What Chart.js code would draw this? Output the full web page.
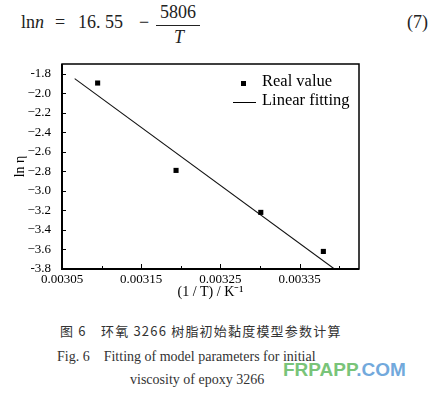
<!DOCTYPE html>
<html>
<head>
<meta charset="utf-8">
<script src="https://cdn.jsdelivr.net/npm/chart.js@4"></script>
<style>
  body { margin: 0; background: #fff; width: 439px; height: 395px; position: relative; overflow: hidden; }
  #chart { position: absolute; left: 0; top: 0; }
  .t { position: absolute; white-space: nowrap; font-family: "Liberation Serif", serif; color: #222; line-height: 1; }
  .eq { font-size: 18px; }
  .cap { font-size: 14px; color: #333; }
  .cn { font-family: "Noto Sans CJK SC", sans-serif; font-size: 13px; color: #333; }
  .wm { font-family: "Liberation Sans", sans-serif; font-weight: bold; font-size: 19px; }
</style>
</head>
<body>
<span class="t eq" style="left:21px; top:13px;">ln<i>n</i></span>
<span class="t eq" style="left:55px; top:13px;">=</span>
<span class="t eq" style="left:78px; top:13px;">16. 55</span>
<span class="t eq" style="left:139px; top:13px;">−</span>
<span class="t eq" style="left:160px; top:3px;">5806</span>
<div style="position:absolute; left:156px; top:25px; width:44px; height:1px; background:#222;"></div>
<span class="t eq" style="left:174px; top:28px;"><i>T</i></span>
<span class="t eq" style="left:407px; top:13px;">(7)</span>

<canvas id="chart" width="439" height="310"></canvas>

<span class="t cn" style="left:60px; top:324px; letter-spacing:1.2px;">图 6　环氧 3266 树脂初始黏度模型参数计算</span>
<span class="t cap" style="left:57px; top:350px;">Fig. 6　Fitting of model parameters for initial</span>
<span class="t cap" style="left:130px; top:373px;">viscosity of epoxy 3266</span>
<span class="t wm" style="left:283px; top:360px;"><span style="color:#79c479;">FRPAPP</span><span style="color:#72a9dc;">.COM</span></span>

<script>
const realX = [0.003095, 0.003194, 0.003301, 0.003380];
const realY = [-1.895, -2.79, -3.22, -3.62];
const fitX = [0.003066, 0.003394];
const fitY = [-1.85, -3.80];
const xTicks = [0.00305, 0.00315, 0.00325, 0.00335];
const xMinorTicks = [0.00310, 0.00320, 0.00330, 0.00340];
const yTicks = [-1.8, -2.0, -2.2, -2.4, -2.6, -2.8, -3.0, -3.2, -3.4, -3.6, -3.8];
const seriesLabels = ['Real value', 'Linear fitting'];

const serif = 'Liberation Serif, serif';

// frame, inward ticks and the legend inside the plot
const framePlugin = {
    id: 'frame',
    afterDraw(chart) {
        const { ctx, chartArea: a, scales } = chart;
        ctx.save();
        ctx.strokeStyle = '#000';
        ctx.lineWidth = 1.5;
        ctx.strokeRect(a.left, a.top, a.right - a.left, a.bottom - a.top);
        ctx.lineWidth = 2;
        ctx.beginPath();
        ctx.moveTo(a.left, a.top);
        ctx.lineTo(a.left, a.bottom);
        ctx.lineTo(a.right, a.bottom);
        ctx.stroke();

        ctx.lineWidth = 1;
        ctx.beginPath();
        yTicks.forEach(v => {
            const y = Math.round(scales.y.getPixelForValue(v)) + 0.5;
            ctx.moveTo(a.left, y);
            ctx.lineTo(a.left + 4, y);
        });
        xTicks.forEach(v => {
            const x = Math.round(scales.x.getPixelForValue(v)) + 0.5;
            ctx.moveTo(x, a.bottom);
            ctx.lineTo(x, a.bottom - 5);
        });
        xMinorTicks.forEach(v => {
            const x = Math.round(scales.x.getPixelForValue(v)) + 0.5;
            ctx.moveTo(x, a.bottom);
            ctx.lineTo(x, a.bottom - 3);
        });
        ctx.stroke();

        // legend
        ctx.fillStyle = '#000';
        ctx.fillRect(241, 81, 5, 5);
        ctx.beginPath();
        ctx.moveTo(233, 102.5);
        ctx.lineTo(256, 102.5);
        ctx.stroke();
        ctx.font = '16.5px ' + serif;
        ctx.textBaseline = 'middle';
        ctx.fillText(seriesLabels[0], 262, 82);
        ctx.fillText(seriesLabels[1], 262, 101);
        ctx.restore();
    }
};

new Chart(document.getElementById('chart').getContext('2d'), {
    type: 'scatter',
    data: {
        datasets: [{
            label: seriesLabels[0],
            data: realX.map((x, i) => ({ x, y: realY[i] })),
            pointStyle: 'rect',
            pointRadius: 3.6,
            backgroundColor: '#000',
            borderColor: '#000',
            borderWidth: 0
        }, {
            label: seriesLabels[1],
            data: fitX.map((x, i) => ({ x, y: fitY[i] })),
            showLine: true,
            pointRadius: 0,
            borderColor: '#111',
            borderWidth: 1.1
        }]
    },
    options: {
        responsive: false,
        animation: false,
        devicePixelRatio: 1,
        layout: { padding: { top: 64, right: 80, left: 0, bottom: 0 } },
        plugins: { legend: { display: false }, tooltip: { enabled: false } },
        scales: {
            x: {
                type: 'linear',
                min: 0.00305,
                max: 0.003425,
                afterFit: s => { s.height = 41; },
                afterBuildTicks: s => { s.ticks = xTicks.map(value => ({ value })); },
                grid: { display: false, drawTicks: false },
                border: { display: false },
                ticks: {
                    padding: 3,
                    color: '#000',
                    font: { family: serif, size: 13 },
                    callback: v => v.toFixed(5)
                },
                title: {
                    display: true,
                    text: '(1 / T) / K⁻¹',
                    color: '#000',
                    font: { family: serif, size: 14, lineHeight: 1.2 },
                    padding: { top: 0, bottom: 9 }
                }
            },
            y: {
                min: -3.8,
                max: -1.7,
                afterFit: s => { s.width = 62; },
                afterBuildTicks: s => { s.ticks = yTicks.map(value => ({ value })); },
                grid: { display: false, drawTicks: false },
                border: { display: false },
                ticks: {
                    padding: 11,
                    color: '#000',
                    font: { family: serif, size: 13 },
                    callback: v => (v === -1.8 || v === -3.8) ? v.toFixed(1) : '−' + Math.abs(v).toFixed(1)
                },
                title: {
                    display: true,
                    text: 'ln η',
                    color: '#000',
                    font: { family: serif, size: 14, lineHeight: 1.2 },
                    padding: { top: 11.6, bottom: 0 }
                }
            }
        }
    },
    plugins: [framePlugin]
});
</script>
</body>
</html>
